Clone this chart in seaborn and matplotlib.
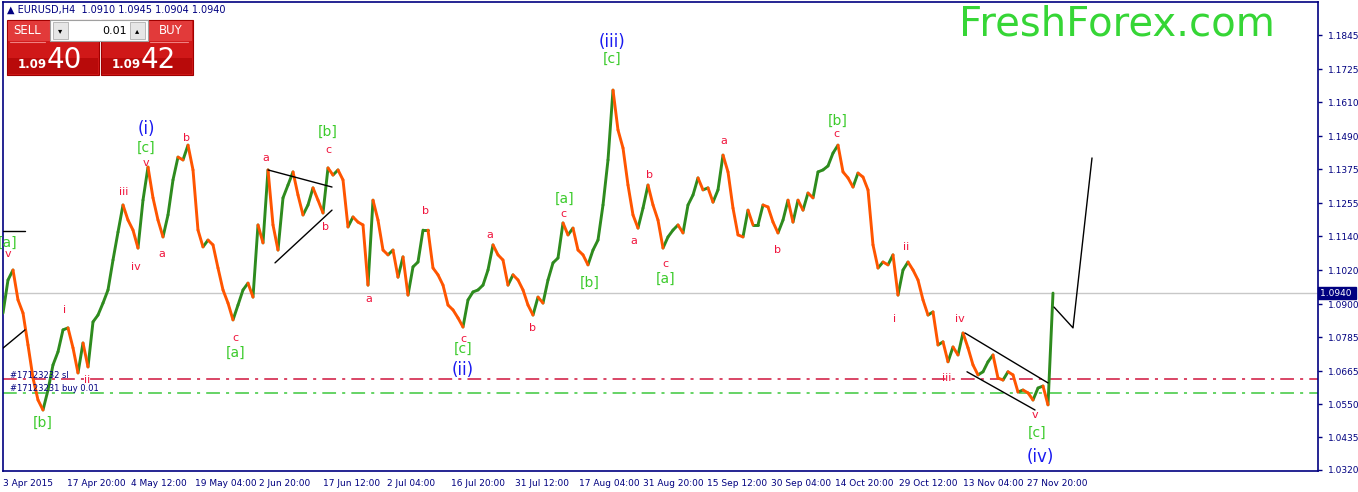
import numpy as np
import pandas as pd
import seaborn as sns
import matplotlib.pyplot as plt
from matplotlib.patches import Rectangle
import matplotlib.transforms as mtransforms

# H4 closes, one every 5 bars from 3 Apr 2015
closes = [
    1.0870, 1.0986, 1.1021, 1.0916, 1.0870, 1.0758, 1.0642, 1.0565, 1.0530, 1.0600,
    1.0688, 1.0734, 1.0811, 1.0818, 1.0748, 1.0660, 1.0765, 1.0681, 1.0839, 1.0863,
    1.0905, 1.0951, 1.1056, 1.1154, 1.1249, 1.1196, 1.1161, 1.1098, 1.1266, 1.1382,
    1.1274, 1.1196, 1.1137, 1.1214, 1.1337, 1.1417, 1.1407, 1.1459, 1.1372, 1.1161,
    1.1102, 1.1126, 1.1109, 1.1028, 1.0951, 1.0905, 1.0846, 1.0898, 1.0951, 1.0975,
    1.0926, 1.1179, 1.1116, 1.1372, 1.1179, 1.1091, 1.1274, 1.1319, 1.1365, 1.1284,
    1.1214, 1.1249, 1.1309, 1.1266, 1.1221, 1.1379, 1.1354, 1.1372, 1.1337, 1.1172,
    1.1207, 1.1189, 1.1179, 1.0968, 1.1266, 1.1196, 1.1091, 1.1074, 1.1091, 1.0996,
    1.1067, 1.0933, 1.1032, 1.1049, 1.1161, 1.1161, 1.1028, 1.1004, 1.0968, 1.0898,
    1.0881, 1.0853, 1.0821, 1.0916, 1.0944, 1.0951, 1.0968, 1.1021, 1.1109, 1.1074,
    1.1056, 1.0968, 1.1004, 1.0986, 1.0951, 1.0898, 1.0863, 1.0926, 1.0905, 1.0986,
    1.1046, 1.1063, 1.1186, 1.1144, 1.1168, 1.1091, 1.1074, 1.1039, 1.1091, 1.1126,
    1.1249, 1.1407, 1.1652, 1.1512, 1.1449, 1.1319, 1.1214, 1.1168, 1.1238, 1.1319,
    1.1249, 1.1196, 1.1098, 1.1137, 1.1161, 1.1179, 1.1151, 1.1249, 1.1284, 1.1344,
    1.1302, 1.1309, 1.1259, 1.1302, 1.1424, 1.1365, 1.1238, 1.1144, 1.1137, 1.1231,
    1.1179, 1.1179, 1.1249, 1.1242, 1.1189, 1.1151, 1.1196, 1.1266, 1.1189, 1.1266,
    1.1231, 1.1291, 1.1274, 1.1365, 1.1372, 1.1386, 1.1431, 1.1459, 1.1365, 1.1344,
    1.1312, 1.1361, 1.1347, 1.1302, 1.1109, 1.1028, 1.1049, 1.1039, 1.1074, 1.0933,
    1.1021, 1.1049, 1.1021, 1.0986, 1.0916, 1.0863, 1.0874, 1.0758, 1.0769, 1.0699,
    1.0751, 1.0723, 1.0800, 1.0748, 1.0688, 1.0653, 1.0664, 1.0699, 1.0723, 1.0642,
    1.0635, 1.0664, 1.0653, 1.0593, 1.0600, 1.0590, 1.0565, 1.0607, 1.0614, 1.0548,
    1.0940,
]
bar_step = 5

date_labels = ["3 Apr 2015", "17 Apr 20:00", "4 May 12:00", "19 May 04:00", "2 Jun 20:00",
               "17 Jun 12:00", "2 Jul 04:00", "16 Jul 20:00", "31 Jul 12:00", "17 Aug 04:00",
               "31 Aug 20:00", "15 Sep 12:00", "30 Sep 04:00", "14 Oct 20:00", "29 Oct 12:00",
               "13 Nov 04:00", "27 Nov 20:00"]
price_ticks = [1.1845, 1.1725, 1.1610, 1.1490, 1.1375, 1.1255, 1.1140, 1.1020,
               1.0900, 1.0785, 1.0665, 1.0550, 1.0435, 1.0320]

last_price = 1.0940
sl_level = 1.0639
buy_level = 1.0590

# wave counts: (bar, price, text)
big_waves = [(143, 1.1516, "(i)"), (460, 1.0670, "(ii)"), (609, 1.1820, "(iii)"), (1037, 1.0366, "(iv)")]
mid_waves = [(5, 1.1116, "[a]"), (40, 1.0485, "[b]"), (143, 1.1451, "[c]"), (233, 1.0730, "[a]"),
             (325, 1.1505, "[b]"), (460, 1.0744, "[c]"), (562, 1.1270, "[a]"), (587, 1.0975, "[b]"),
             (609, 1.1761, "[c]"), (663, 1.0989, "[a]"), (835, 1.1543, "[b]"), (1034, 1.0450, "[c]")]
small_waves = [(5, 1.1077, "v"), (62, 1.0881, "i"), (84, 1.0635, "ii"), (121, 1.1295, "iii"),
               (133, 1.1032, "iv"), (143, 1.1396, "v"), (159, 1.1077, "a"), (184, 1.1484, "b"),
               (232, 1.0783, "c"), (263, 1.1414, "a"), (325, 1.1442, "c"), (323, 1.1172, "b"),
               (366, 1.0920, "a"), (423, 1.1228, "b"), (460, 1.0779, "c"), (487, 1.1144, "a"),
               (530, 1.0818, "b"), (560, 1.1217, "c"), (631, 1.1123, "a"), (647, 1.1354, "b"),
               (662, 1.1042, "c"), (721, 1.1473, "a"), (775, 1.1091, "b"), (833, 1.1498, "c"),
               (892, 1.0850, "i"), (903, 1.1102, "ii"), (944, 1.0643, "iii"), (957, 1.0850, "iv"),
               (1032, 1.0513, "v")]

# hand drawn trend lines: list of (bar, price) vertices
drawn_lines = [
    [(0, 1.1158), (22, 1.1158)],
    [(0, 1.0747), (22, 1.0811)],
    [(265, 1.1372), (329, 1.1312)],
    [(272, 1.1046), (329, 1.1231)],
    [(962, 1.0800), (1045, 1.0625)],
    [(964, 1.0664), (1032, 1.0530)],
    [(1051, 1.0891), (1070, 1.0818), (1089, 1.1414)],
]

navy = "#000080"
up_col = "#2E8B1E"
down_col = "#FF5500"

sns.set_style("white")
plt.rcParams["font.family"] = ["DejaVu Sans"]

W, H = 1358, 492
fig = plt.figure(figsize=(W / 100, H / 100), dpi=100)
ax = fig.add_axes([3 / W, 21 / H, 1315 / W, 469 / H])

# bars as segments coloured by direction
bars_x = np.arange(len(closes)) * bar_step
rows = []
for i in range(1, len(closes)):
    d = "up" if closes[i] >= closes[i - 1] else "down"
    rows.append((i, bars_x[i - 1], closes[i - 1], d))
    rows.append((i, bars_x[i], closes[i], d))
df = pd.DataFrame(rows, columns=["seg", "bar", "price", "dir"])

ax.axhline(last_price, color="#C8C8C8", lw=1, zorder=1)
ax.axhline(sl_level, color="#D0143C", lw=1.1, ls=(0, (9, 4, 2, 4)), zorder=1)
ax.axhline(buy_level, color="#3CC83C", lw=1.1, ls=(0, (9, 4, 2, 4)), zorder=1)

sns.lineplot(data=df, x="bar", y="price", units="seg", estimator=None, hue="dir",
             palette={"up": up_col, "down": down_col}, linewidth=2.1, sort=False,
             legend=False, ax=ax, zorder=3)

for line in drawn_lines:
    lx, ly = zip(*line)
    ax.plot(lx, ly, color="black", lw=1, zorder=4)

for bx, p, t in big_waves:
    ax.text(bx, p, t, color="#1A1AF0", fontsize=12, ha="center", va="center", zorder=5)
for bx, p, t in mid_waves:
    ax.text(bx, p, t, color="#3CCB2C", fontsize=10, ha="center", va="center", zorder=5)
for bx, p, t in small_waves:
    ax.text(bx, p, t, color="#F0143C", fontsize=8, ha="center", va="center", zorder=5)

ax.text(7, sl_level + 0.0012, "#17123232 sl", color=navy, fontsize=6, va="center", zorder=5)
ax.text(7, buy_level + 0.0016, "#17123231 buy 0.01", color=navy, fontsize=6, va="center", zorder=5)

ax.set_xlim(0, 1315)
ax.set_ylim(1.0316, 1.1961)
ax.set_xlabel("")
ax.set_ylabel("")
ax.set_xticks(np.arange(len(date_labels)) * 64)
ax.set_xticklabels(date_labels, ha="left")
ax.set_yticks(price_ticks)
ax.set_yticklabels([f"{v:.4f}" for v in price_ticks])
ax.yaxis.tick_right()
ax.tick_params(axis="both", colors=navy, labelsize=6.5, length=3, width=1, direction="out", pad=2)
ax.tick_params(axis="x", pad=3)
ax.tick_params(axis="y", pad=4)
for s in ax.spines.values():
    s.set_color(navy)
    s.set_linewidth(1.2)

# current price tag on the scale
trans = mtransforms.blended_transform_factory(ax.transAxes, ax.transData)
ax.text(1.0015, last_price, "1.0940 ", transform=trans, color="white", fontsize=6.5,
        va="center", ha="left", clip_on=False,
        bbox=dict(boxstyle="square,pad=0.2", fc=navy, ec=navy), zorder=6)

# overlay in pixel coordinates for the header and the trade panel
ov = fig.add_axes([0, 0, 1, 1], zorder=10)
ov.set_xlim(0, W)
ov.set_ylim(H, 0)
ov.axis("off")
ov.patch.set_alpha(0)

ov.text(7, 10, "\u25b2 EURUSD,H4  1.0910 1.0945 1.0904 1.0940", color=navy, fontsize=7, va="center")
ov.text(1117, 24, "FreshForex.com", color="#36D636", fontsize=29, ha="center", va="center")

for x0 in (7, 101):
    ov.add_patch(Rectangle((x0, 20), 92, 55, fc="#D01818", ec="#A00000", lw=0.8))
    ov.add_patch(Rectangle((x0 + 1, 21), 90, 20, fc="#E23A3A", ec="none"))
    ov.add_patch(Rectangle((x0 + 1, 58), 90, 16, fc="#B80A0A", ec="none"))
ov.add_patch(Rectangle((50, 20), 98, 21, fc="white", ec="#A0A0A0", lw=0.8))
ov.add_patch(Rectangle((53, 22), 15, 17, fc="#E6E6E6", ec="#B0B0B0", lw=0.6))
ov.add_patch(Rectangle((130, 22), 15, 17, fc="#E6E6E6", ec="#B0B0B0", lw=0.6))
ov.text(60.5, 30.5, "\u25be", fontsize=6, ha="center", va="center", color="black")
ov.text(137.5, 30.5, "\u25b4", fontsize=6, ha="center", va="center", color="black")
ov.text(127, 30.5, "0.01", fontsize=8, ha="right", va="center", color="black")
ov.text(27, 30.5, "SELL", fontsize=8.5, ha="center", va="center", color="white")
ov.text(171, 30.5, "BUY", fontsize=8.5, ha="center", va="center", color="white")
ov.plot([10, 45], [41.5, 41.5], color="#F08080", lw=0.8)
ov.plot([150, 188], [41.5, 41.5], color="#F08080", lw=0.8)
ov.text(32, 64, "1.09", fontsize=8.5, fontweight="bold", ha="center", va="center", color="white")
ov.text(64, 60, "40", fontsize=20, ha="center", va="center", color="white")
ov.text(126, 64, "1.09", fontsize=8.5, fontweight="bold", ha="center", va="center", color="white")
ov.text(158, 60, "42", fontsize=20, ha="center", va="center", color="white")

fig.savefig("out.png", dpi=100)
